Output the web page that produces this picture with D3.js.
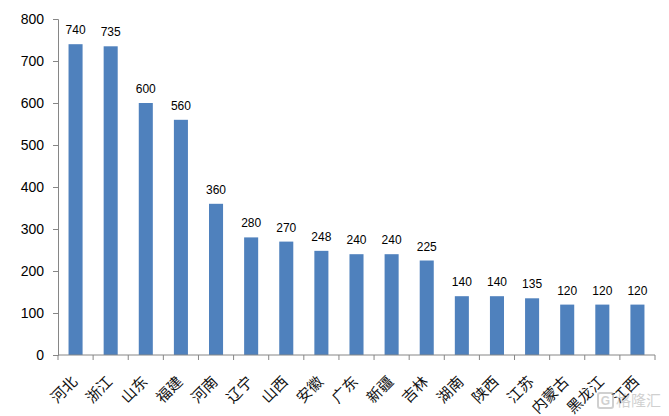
<!DOCTYPE html>
<html><head><meta charset="utf-8">
<script src="https://cdn.jsdelivr.net/npm/d3@7/dist/d3.min.js"></script>
<style>body{margin:0;background:#fff}svg{display:block}</style>
</head><body>
<svg id="c" width="669" height="416"></svg>
<script>
const categories = ["河北","浙江","山东","福建","河南","辽宁","山西","安徽","广东","新疆","吉林","湖南","陕西","江苏","内蒙古","黑龙江","江西"];
const values = [740,735,600,560,360,280,270,248,240,240,225,140,140,135,120,120,120];
const yTicks = [0,100,200,300,400,500,600,700,800];

const svg = d3.select("#c");
const m = {l:58, r:14, t:19, b:61};
const W = 669, H = 416;
const x = d3.scaleBand().domain(categories).range([m.l, W - m.r]).paddingInner(0.6).paddingOuter(0.3);
const y = d3.scaleLinear().domain([0,800]).range([H - m.b, m.t]);
const axisColor = "#868686";

// bars
svg.append("g").selectAll("rect").data(values).join("rect")
  .attr("x", (d,i) => x(categories[i]))
  .attr("width", x.bandwidth())
  .attr("y", d => y(d))
  .attr("height", d => y(0) - y(d))
  .attr("fill", "#4F81BD");

// value labels
svg.append("g").selectAll("text").data(values).join("text")
  .attr("x", (d,i) => x(categories[i]) + x.bandwidth()/2)
  .attr("y", d => y(d) - 10)
  .attr("text-anchor", "middle")
  .attr("font-family", "Liberation Sans, Arial, sans-serif")
  .attr("font-size", 12)
  .attr("fill", "#000")
  .text(d => d);

// y axis
const ya = svg.append("g").attr("transform", `translate(${m.l},0)`)
  .call(d3.axisLeft(y).tickValues(yTicks).tickSize(5).tickPadding(9));
ya.select(".domain").attr("stroke", axisColor);
ya.selectAll(".tick line").attr("stroke", axisColor);
ya.selectAll(".tick text").attr("font-family", "Liberation Sans, Arial, sans-serif").attr("font-size", 14).attr("fill", "#000");

// x axis
const xa = svg.append("g").attr("transform", `translate(0,${y(0)})`);
xa.append("line").attr("x1", m.l).attr("x2", W - m.r).attr("y1", 0).attr("y2", 0).attr("stroke", axisColor);
const bounds = d3.range(categories.length + 1).map(i => m.l + (W - m.l - m.r) * i / categories.length);
xa.selectAll("line.tk").data(bounds).join("line").attr("class","tk")
  .attr("x1", d => d).attr("x2", d => d).attr("y1", 0).attr("y2", 5).attr("stroke", axisColor);
xa.selectAll("text").data(categories).join("text")
  .attr("transform", d => `translate(${x(d) + x.bandwidth()/2 - 1},24) rotate(-45)`)
  .attr("text-anchor", "end")
  .attr("dy", "0.35em")
  .attr("font-family", "Noto Sans CJK SC, sans-serif")
  .attr("font-size", 15)
  .attr("fill", "#111")
  .text(d => d);

// watermark
const wm = svg.append("g").attr("opacity", 0.45);
wm.append("rect").attr("x", 598).attr("y", 393).attr("width", 15).attr("height", 15).attr("rx", 2)
  .attr("fill", "none").attr("stroke", "#999").attr("stroke-width", 2);
wm.append("text").attr("x", 605.5).attr("y", 405).attr("text-anchor", "middle")
  .attr("font-family", "Liberation Sans, sans-serif").attr("font-weight", "bold").attr("font-size", 12).attr("fill", "#999").text("G");
wm.append("text").attr("x", 616).attr("y", 406).attr("font-family", "Noto Sans CJK SC, sans-serif")
  .attr("font-size", 15).attr("fill", "#999").text("格隆汇");
</script>
</body></html>
